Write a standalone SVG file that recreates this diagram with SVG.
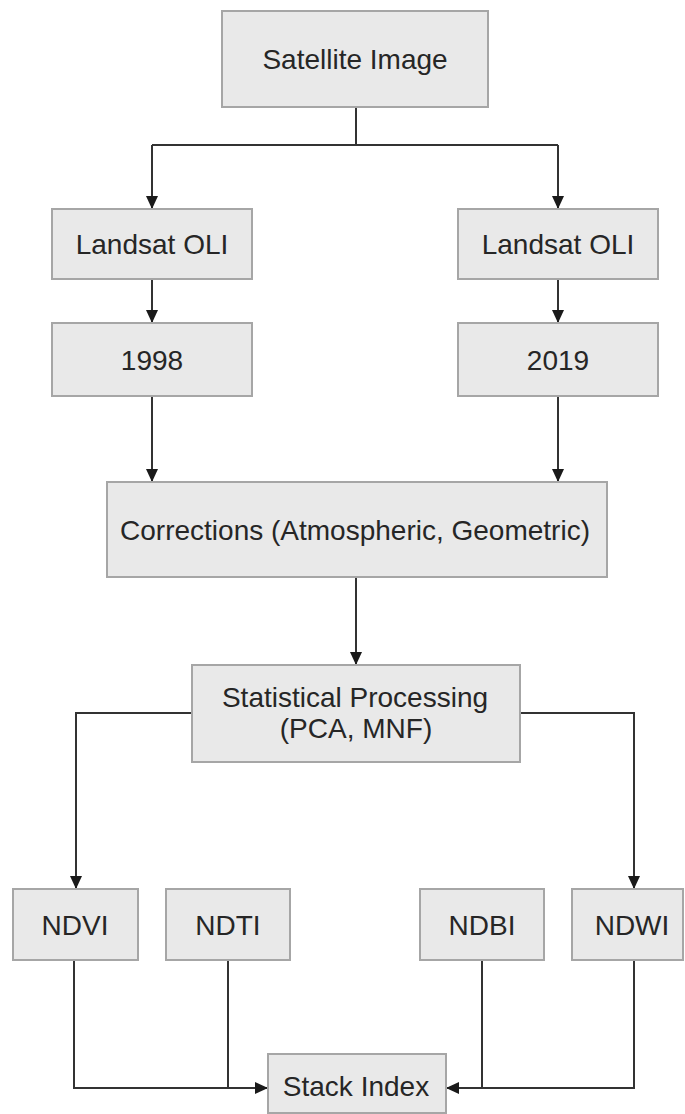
<svg xmlns="http://www.w3.org/2000/svg" width="685" height="1114" viewBox="0 0 685 1114">
<style>
.box{fill:#e9e9e9;stroke:#a6a6a6;stroke-width:2}
.lbl{font-family:"Liberation Sans",Arial,sans-serif;font-size:28px;fill:#262626;text-anchor:middle}
.conn{fill:none;stroke:#333333;stroke-width:2}
</style>
<defs>
<marker id="arr" markerUnits="userSpaceOnUse" markerWidth="14" markerHeight="12" refX="13" refY="6" orient="auto">
<path d="M0,0 L13,6 L0,12 Z" fill="#1a1a1a"/>
</marker>
</defs>
<rect width="685" height="1114" fill="#ffffff"/>
<g id="connectors">
<path class="conn" d="M356,107 V145 M152,145 H558"/>
<path class="conn" d="M152,145 V209" marker-end="url(#arr)"/>
<path class="conn" d="M558,145 V209" marker-end="url(#arr)"/>
<path class="conn" d="M152,279 V323" marker-end="url(#arr)"/>
<path class="conn" d="M558,279 V323" marker-end="url(#arr)"/>
<path class="conn" d="M152,396 V482" marker-end="url(#arr)"/>
<path class="conn" d="M558,396 V482" marker-end="url(#arr)"/>
<path class="conn" d="M356,577 V665" marker-end="url(#arr)"/>
<path class="conn" d="M192,713 H76 V889" marker-end="url(#arr)"/>
<path class="conn" d="M520,713 H634 V889" marker-end="url(#arr)"/>
<path class="conn" d="M228,960 V1088"/>
<path class="conn" d="M74,960 V1088 H268" marker-end="url(#arr)"/>
<path class="conn" d="M482,960 V1088"/>
<path class="conn" d="M634,960 V1088 H446" marker-end="url(#arr)"/>
</g>
<g id="satellite"><rect class="box" x="222" y="11" width="266" height="96"/><text class="lbl" x="355" y="69">Satellite Image</text></g>
<g id="landsat-left"><rect class="box" x="52" y="209" width="200" height="70"/><text class="lbl" x="152" y="254">Landsat OLI</text></g>
<g id="landsat-right"><rect class="box" x="458" y="209" width="200" height="70"/><text class="lbl" x="558" y="254">Landsat OLI</text></g>
<g id="y1998"><rect class="box" x="52" y="323" width="200" height="73"/><text class="lbl" x="152" y="370">1998</text></g>
<g id="y2019"><rect class="box" x="458" y="323" width="200" height="73"/><text class="lbl" x="558" y="370">2019</text></g>
<g id="corrections"><rect class="box" x="107" y="482" width="500" height="95"/><text class="lbl" x="355" y="540">Corrections (Atmospheric, Geometric)</text></g>
<g id="statistical"><rect class="box" x="192" y="665" width="328" height="97"/><text class="lbl" x="355" y="707">Statistical Processing</text><text class="lbl" x="356" y="738">(PCA, MNF)</text></g>
<g id="ndvi"><rect class="box" x="13" y="889" width="125" height="71"/><text class="lbl" x="75" y="935">NDVI</text></g>
<g id="ndti"><rect class="box" x="166" y="889" width="124" height="71"/><text class="lbl" x="228" y="935">NDTI</text></g>
<g id="ndbi"><rect class="box" x="420" y="889" width="124" height="71"/><text class="lbl" x="482" y="935">NDBI</text></g>
<g id="ndwi"><rect class="box" x="572" y="889" width="111" height="71"/><text class="lbl" x="632" y="935">NDWI</text></g>
<g id="stack"><rect class="box" x="268" y="1054" width="178" height="59"/><text class="lbl" x="356" y="1096">Stack Index</text></g>
</svg>
